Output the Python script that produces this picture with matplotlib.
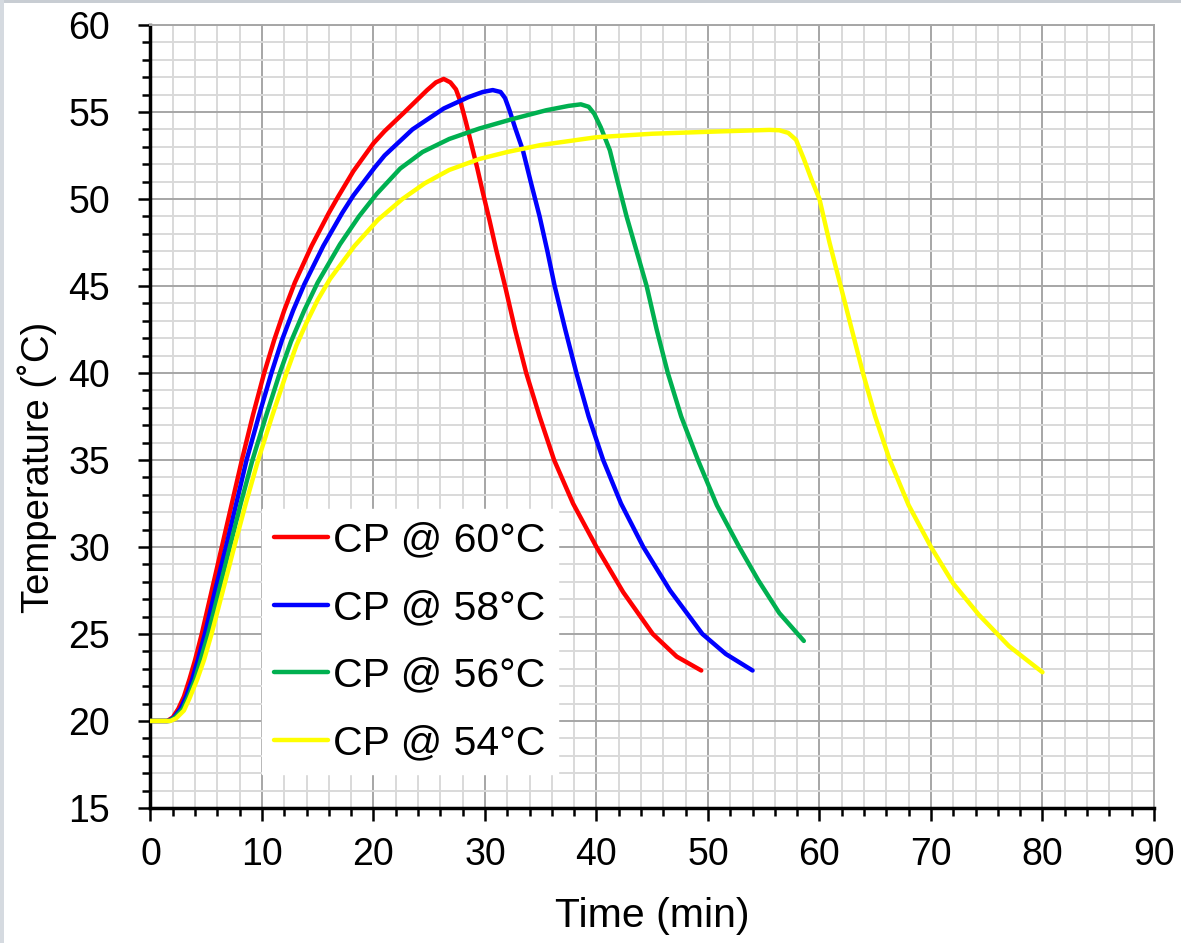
import matplotlib
matplotlib.use("Agg")
import matplotlib.pyplot as plt
from matplotlib.patches import Rectangle
from matplotlib.ticker import MultipleLocator

plt.rcParams["font.family"] = ["Liberation Sans", "DejaVu Sans"]

# Heating / cooling profiles, time in minutes and temperature in deg C
t_60 = [0, 1.5, 2.0, 2.5, 3.0, 3.5, 4.0, 4.6, 5.5, 6.4, 7.3, 8.2, 9.2, 10.2,
        11.1, 12.0, 12.95, 14.45, 16.0, 16.8, 18.2, 19.1, 20.0, 21.0, 22.8, 24.8,
        25.6, 26.3, 26.9, 27.4, 27.8, 28.3, 28.8, 29.3, 29.8, 30.4, 31.0, 31.8,
        32.7, 33.7, 34.9, 36.2, 37.9, 40.0, 42.4, 45.05, 47.2, 49.4]
T_60 = [20, 20, 20.2, 20.7, 21.4, 22.4, 23.5, 25, 27.5, 30, 32.5, 35, 37.6, 40,
        41.9, 43.6, 45.2, 47.3, 49.2, 50.1, 51.6, 52.4, 53.2, 53.9, 55.0, 56.25,
        56.7, 56.9, 56.7, 56.3, 55.6, 54.4, 53.1, 51.8, 50.4, 48.8, 47.1, 45,
        42.5, 40, 37.5, 35, 32.5, 30, 27.4, 25, 23.7, 22.9]

t_58 = [0, 1.6, 2.1, 2.7, 3.2, 3.75, 4.25, 4.88, 5.8, 6.77, 7.7, 8.62, 9.75, 10.85,
        11.8, 12.8, 13.8, 15.5, 17.2, 18.2, 20.1, 21.0, 23.5, 26.3, 28.5, 29.8,
        30.7, 31.4, 31.8, 32.2, 32.7, 33.4, 34.1, 34.9, 35.6, 36.25, 37.2, 38.2,
        39.3, 40.6, 42.2, 44.2, 46.6, 49.5, 51.6, 54.0]
T_58 = [20, 20, 20.2, 20.7, 21.4, 22.4, 23.5, 25, 27.5, 30, 32.5, 35, 37.6, 40,
        41.9, 43.6, 45.1, 47.3, 49.2, 50.2, 51.8, 52.5, 54.0, 55.2, 55.85, 56.15,
        56.26, 56.15, 55.8, 55.1, 54.1, 52.8, 51.0, 49, 47.0, 45, 42.5, 40,
        37.5, 35, 32.5, 30, 27.5, 25, 23.85, 22.9]

t_56 = [0, 1.7, 2.2, 2.9, 3.4, 4.0, 4.5, 5.18, 6.15, 7.12, 8.1, 9.15, 10.4, 11.6,
        12.6, 13.8, 15.0, 17.0, 18.7, 20.3, 22.4, 24.4, 26.8, 29.5, 32.5, 35.5,
        37.5, 38.6, 39.3, 39.8, 40.4, 41.2, 41.9, 42.7, 43.6, 44.5, 45.4, 46.4,
        47.6, 49.1, 50.8, 52.8, 54.5, 56.4, 58.6]
T_56 = [20, 20, 20.2, 20.7, 21.4, 22.4, 23.5, 25, 27.5, 30, 32.5, 35, 37.6, 40,
        41.8, 43.6, 45.2, 47.4, 49.0, 50.3, 51.75, 52.7, 53.45, 54.05, 54.6, 55.1,
        55.35, 55.44, 55.3, 54.9, 54.1, 52.8, 51.0, 49, 47.0, 45, 42.5, 40,
        37.5, 35, 32.4, 30, 28.1, 26.2, 24.6]

t_54 = [0, 1.8, 2.3, 3.0, 3.5, 4.2, 4.8, 5.48, 6.5, 7.51, 8.55, 9.66, 10.9, 12.2,
        13.1, 14.0, 15.0, 16.1, 18.3, 20.4, 22.6, 24.6, 26.8, 29.5, 32.0, 35.0,
        40.0, 45.0, 50.4, 55.5, 56.4, 57.2, 57.9, 58.6, 59.3, 60.0, 60.9, 61.9,
        62.9, 63.9, 65.0, 66.3, 68.0, 70.0, 72.0, 74.3, 77.0, 80.0]
T_54 = [20, 20, 20.15, 20.6, 21.3, 22.4, 23.5, 25, 27.5, 30, 32.5, 35, 37.5, 40,
        41.6, 42.9, 44.2, 45.4, 47.3, 48.8, 50.0, 50.9, 51.67, 52.3, 52.7, 53.1,
        53.55, 53.75, 53.87, 53.97, 53.95, 53.8, 53.4, 52.3, 51.1, 50, 47.5, 45,
        42.5, 40, 37.5, 35, 32.4, 30, 27.9, 26.1, 24.3, 22.8]

series = [
    (t_60, T_60, "#FF0000", "CP @ 60°C"),
    (t_58, T_58, "#0000FF", "CP @ 58°C"),
    (t_56, T_56, "#00B050", "CP @ 56°C"),
    (t_54, T_54, "#FFFF00", "CP @ 54°C"),
]

fig = plt.figure(figsize=(11.81, 9.43), dpi=100)
ax = fig.add_axes([0.1274, 0.1432, 0.8497, 0.8303])

for t, T, c, lab in series:
    ax.plot(t, T, color=c, lw=3.2, label=lab, solid_joinstyle="round",
            solid_capstyle="round", zorder=3)

ax.set_xlim(0, 90)
ax.set_ylim(15, 60)
ax.xaxis.set_major_locator(MultipleLocator(10))
ax.xaxis.set_minor_locator(MultipleLocator(2))
ax.yaxis.set_major_locator(MultipleLocator(5))
ax.yaxis.set_minor_locator(MultipleLocator(1))

ax.grid(which="minor", color="#D9D9D9", lw=1.4, zorder=0)
ax.grid(which="major", color="#A6A6A6", lw=1.4, zorder=0)
ax.set_axisbelow(True)

for side in ("left", "bottom"):
    ax.spines[side].set_color("black")
    ax.spines[side].set_linewidth(2.5)
for side in ("top", "right"):
    ax.spines[side].set_color("#A6A6A6")
    ax.spines[side].set_linewidth(1.4)

ax.tick_params(which="major", direction="out", length=9, width=1.8,
               labelsize=27, colors="black")
ax.tick_params(which="minor", direction="out", length=6, width=1.8, colors="black")
ax.tick_params(axis="y", which="major", pad=20)
ax.tick_params(axis="x", which="major", pad=12)

ax.set_xlabel("Time (min)", fontsize=29.5)
ax.set_ylabel("Temperature (˚C)", fontsize=27.5)
ax.xaxis.set_label_coords(0.5, -0.114)
ax.yaxis.set_label_coords(-0.093, 0.4355)

leg = ax.legend(loc="lower left", bbox_to_anchor=(0.111, 0.043), borderaxespad=0,
                fontsize=29.5, frameon=True, fancybox=False, framealpha=1,
                facecolor="white", edgecolor="white", handlelength=1.32,
                handletextpad=0.12, labelspacing=0.72, borderpad=0.3)
leg.set_zorder(5)
for line in leg.get_lines():
    line.set_linewidth(3.2)

# thin slide border along the top and left edge
fig.add_artist(Rectangle((0, 0.997), 1, 0.003, transform=fig.transFigure,
                         color="#C8CDD3", lw=0))
fig.add_artist(Rectangle((0, 0), 0.003, 1, transform=fig.transFigure,
                         color="#D5DAE0", lw=0))

fig.savefig("out.png", dpi=100, facecolor="white")
